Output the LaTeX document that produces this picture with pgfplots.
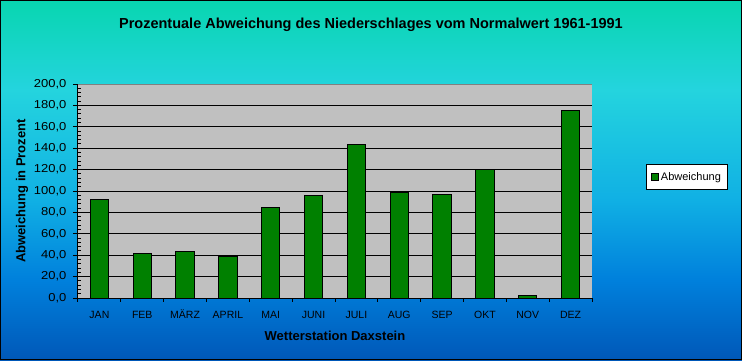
\documentclass[border=0pt]{standalone}
\usepackage{fontspec}
\setmainfont{Liberation Sans}
\usepackage{graphicx}
\usepackage{pgfplots}
\pgfplotsset{compat=1.18}
\definecolor{bargreen}{RGB}{0,128,0}
\definecolor{plotgray}{RGB}{192,192,192}
\pgfdeclareverticalshading{bgshade}{100bp}{%
  rgb(0bp)=(0,0.345,0.722);
  rgb(25bp)=(0,0.345,0.722);
  rgb(36.11bp)=(0,0.502,0.863);
  rgb(47.22bp)=(0.063,0.690,0.894);
  rgb(62.5bp)=(0.141,0.831,0.871);
  rgb(75bp)=(0.031,0.839,0.690);
  rgb(100bp)=(0.031,0.839,0.690)}
\begin{document}
\begin{tikzpicture}[x=1pt,y=1pt]
\useasboundingbox (0,0) rectangle (742,360);
\shade[shading=bgshade] (0,0) rectangle (742,360);
\draw[black, line width=1pt] (0.5,0.5) rectangle (741.5,359.5);
\begin{axis}[
  at={(78pt,62pt)}, anchor=south west,
  width=514pt, height=214pt, scale only axis,
  xmin=-0.5, xmax=11.5, ymin=0, ymax=200,
  axis x line*=bottom, axis y line*=left,
  axis line style={black, line width=1pt},
  axis background/.style={fill=plotgray},
  /pgf/number format/assume math mode=true,
  ybar, bar width=18.3pt,
  xtick={0,...,11},
  xticklabels={JAN,FEB,MÄRZ,APRIL,MAI,JUNI,JULI,AUG,SEP,OKT,NOV,DEZ},
  minor xtick={-0.5,0.5,...,11.5},
  major x tick style={draw=none},
  ytick={0,20,...,200},
  minor y tick num=4,
  tick align=outside,
  major tick length=7pt,
  minor tick length=3.5pt,
  major y tick style={xshift=2pt, line width=1pt, black},
  minor y tick style={xshift=3.5pt, line width=1pt, black},
  minor x tick style={line width=1pt, black},
  ymajorgrids,
  major grid style={black, line width=1pt},
  yticklabel={\scalebox{1.13}[1]{\pgfmathprintnumber[fixed,fixed zerofill,precision=1,use comma,1000 sep={}]{\tick}}},
  yticklabel style={font=\fontsize{11.5}{13}\selectfont, xshift=-1pt},
  xticklabel style={font=\fontsize{10.5}{12}\selectfont, text height=8pt, text depth=1pt, yshift=-1.5pt},
  title={Prozentuale Abweichung des Niederschlages vom Normalwert 1961-1991},
  title style={at={(axis description cs:0.570,1.25)}, anchor=center, font=\fontsize{14.5}{16}\selectfont\bfseries},
  xlabel={Wetterstation Daxstein},
  xlabel style={at={(axis description cs:0.5,-0.178)}, anchor=center, font=\fontsize{13}{15}\selectfont\bfseries},
  ylabel={Abweichung in Prozent},
  ylabel style={at={(axis description cs:-0.109,0.5)}, anchor=center, font=\fontsize{13}{15}\selectfont\bfseries},
  legend style={at={(axis description cs:1.105,0.566)}, anchor=west, draw=black, fill=white, line width=1pt,
    font=\fontsize{11}{13}\selectfont, inner xsep=5pt, inner ysep=6.5pt,
    nodes={inner sep=1.5pt}, cells={anchor=west},
    /tikz/every even column/.append style={column sep=1.5pt}},
  legend image code/.code={\draw[fill=bargreen, draw=black, line width=1pt] (0pt,-3.5pt) rectangle (7pt,3.5pt);},
]
\addplot[fill=bargreen, draw=black, line width=1pt] coordinates {
 (0,92.4) (1,42.0) (2,43.9) (3,39.2) (4,84.9) (5,96.1)
 (6,143.7) (7,98.9) (8,97.0) (9,120.4) (10,1.9) (11,175.4)};
\addlegendentry{Abweichung}
\draw[gray, line width=1pt] (rel axis cs:0,1) -- (rel axis cs:1,1);
\end{axis}
\end{tikzpicture}
\end{document}
